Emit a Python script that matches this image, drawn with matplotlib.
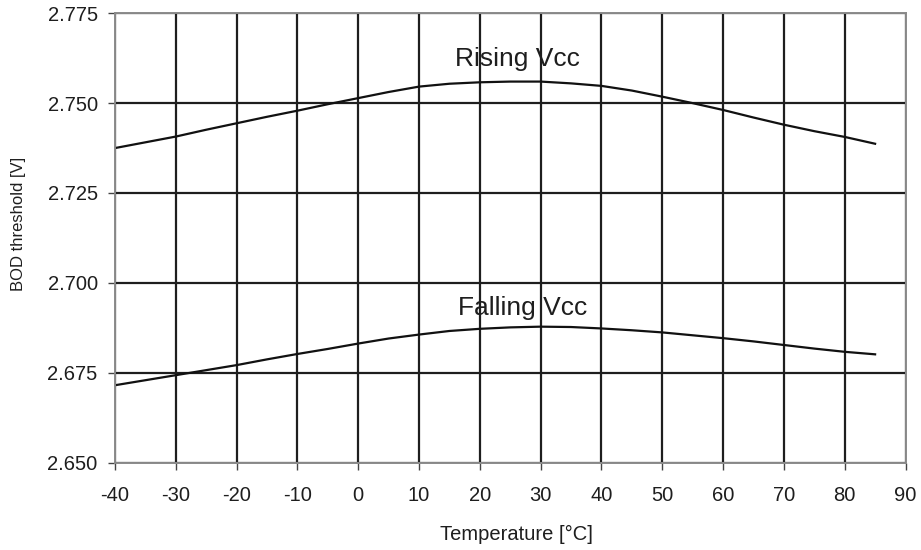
import matplotlib
matplotlib.use("Agg")
import matplotlib.pyplot as plt

plt.rcParams['font.family'] = ['Liberation Sans', 'DejaVu Sans']

temperature = [-40, -35, -30, -25, -20, -15, -10, -5, 0, 5, 10, 15, 20, 25, 30,
               35, 40, 45, 50, 55, 60, 65, 70, 75, 80, 85]
rising_vcc = [2.7375, 2.7391, 2.7407, 2.7426, 2.7444, 2.7462, 2.7479, 2.7497,
              2.7514, 2.7531, 2.7546, 2.7554, 2.7558, 2.7560, 2.7560, 2.7555,
              2.7548, 2.7535, 2.7518, 2.7500, 2.7481, 2.7460, 2.7440, 2.7422,
              2.7406, 2.7387]
falling_vcc = [2.6715, 2.6729, 2.6743, 2.6757, 2.6771, 2.6787, 2.6802, 2.6816,
               2.6831, 2.6845, 2.6856, 2.6866, 2.6872, 2.6876, 2.6878, 2.6877,
               2.6873, 2.6868, 2.6862, 2.6854, 2.6846, 2.6837, 2.6827, 2.6817,
               2.6808, 2.6801]

x_ticks = list(range(-40, 91, 10))
y_ticks = [2.650, 2.675, 2.700, 2.725, 2.750, 2.775]
y_tick_labels = ["2.650", "2.675", "2.700", "2.725", "2.750", "2.775"]
x_label = "Temperature [°C]"
y_label = "BOD threshold [V]"
series_labels = ["Rising Vcc", "Falling Vcc"]
label_pos = [(26.1, 2.7604), (27.1, 2.6911)]

W, H = 921, 550
fig = plt.figure(figsize=(W / 100, H / 100), dpi=100)
ax = fig.add_axes([115 / W, 1 - 462.5 / H, 790.5 / W, 449.2 / H])

ax.set_xlim(-40, 90)
ax.set_ylim(2.650, 2.775)
ax.set_xticks(x_ticks)
ax.set_xticklabels([str(v) for v in x_ticks])
ax.set_yticks(y_ticks)
ax.set_yticklabels(y_tick_labels)

ax.grid(True, color="#1e1e1e", linewidth=1.6)
ax.set_axisbelow(True)
for s in ax.spines.values():
    s.set_color("#8a8a8a")
    s.set_linewidth(1.4)

ax.tick_params(axis="both", direction="out", length=5, width=1, color="#444444",
               labelsize=14.5, labelcolor="#1e1e1e")
ax.tick_params(axis="x", pad=12)
ax.tick_params(axis="y", pad=7.5)

ax.plot(temperature, rising_vcc, color="#111111", linewidth=1.6)
ax.plot(temperature, falling_vcc, color="#111111", linewidth=1.6)

for lab, (lx, ly) in zip(series_labels, label_pos):
    ax.text(lx, ly, lab, ha="center", va="baseline", fontsize=19, color="#1e1e1e")

fig.text(516 / W, 1 - 539.5 / H, x_label, ha="center", va="baseline",
         fontsize=14.5, color="#1e1e1e")
fig.text(18.5 / W, 1 - 223.5 / H, y_label, ha="center", va="center",
         rotation=90, fontsize=12, color="#1e1e1e")

fig.savefig("out.png", dpi=100)
